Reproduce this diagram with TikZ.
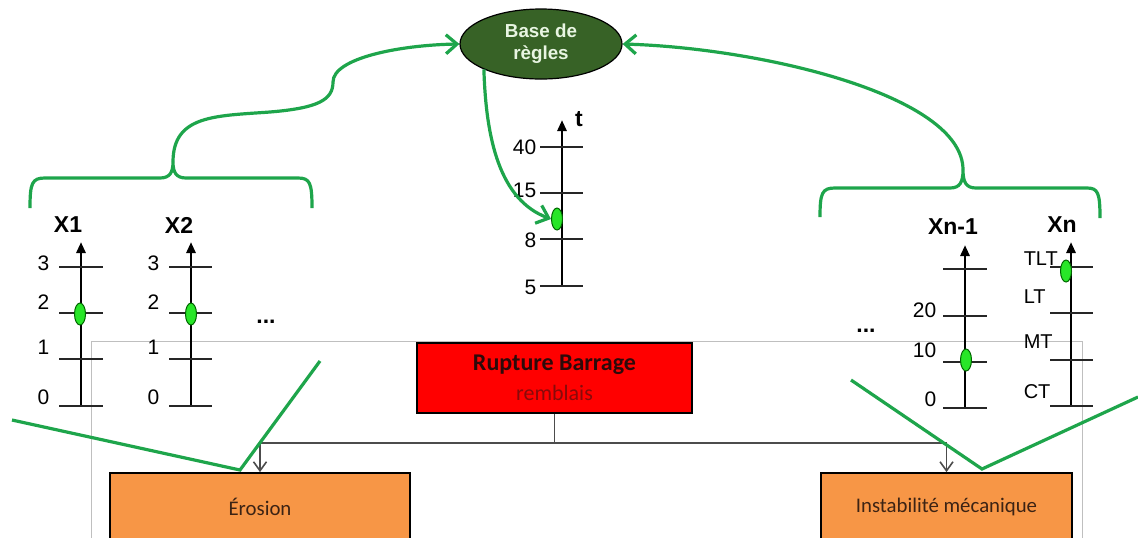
\documentclass[tikz,border=0pt]{standalone}
\usepackage{fontspec}
\setmainfont{Liberation Sans}
\newfontfamily\calibri{Carlito}
\usetikzlibrary{arrows.meta,shapes.geometric}
\definecolor{vertligne}{RGB}{30,165,75}
\definecolor{vertbase}{RGB}{55,98,38}
\definecolor{vertpoint}{RGB}{40,230,40}
\definecolor{orangebox}{RGB}{247,150,70}
\definecolor{texterouge}{RGB}{135,10,10}
\definecolor{textebrun}{RGB}{60,35,20}
\tikzset{every picture/.style={line width=0.75pt},
  axe/.style={line width=1.4pt,-{Triangle[width=4.5pt,length=5.5pt]}},
  graduation/.style={line width=0.8pt,color=black!85},
  vert/.style={draw=vertligne,line width=1.6pt},
  fleche/.style={vert,-{Straight Barb[length=5.5pt,width=9.5pt]}},
  lien/.style={draw=black!70,line width=0.8pt},
  cadre/.style={draw=black!25,line width=0.5pt},
  point/.style={ellipse,draw=black!60!green,fill=vertpoint,line width=0.5pt,minimum width=5.5pt,minimum height=11pt,inner sep=0pt},
  chiffre/.style={anchor=east,inner sep=0pt,font=\fontsize{10.5}{12}\selectfont},
  niveau/.style={anchor=west,inner sep=0pt,font=\fontsize{10}{12}\selectfont},
  titre/.style={inner sep=0pt,font=\fontsize{11.5}{13}\selectfont\bfseries},
  boite/.style={draw=black,line width=0.9pt,fill=orangebox,inner sep=0pt,minimum height=34pt,font=\calibri\fontsize{10.4}{12}\selectfont,text=textebrun}}

\begin{document}
\begin{tikzpicture}[x=0.5pt,y=0.5pt,yscale=-1,xscale=1]
\clip (0,0) rectangle (1138,537);

%Shape: Frame
\draw[cadre] (91,545) -- (91,341) -- (1082,341) -- (1082,545);

%Shape: Ellipse
\node[ellipse,draw=black,line width=0.6pt,fill=vertbase,minimum width=81pt,minimum height=35pt,inner sep=0pt,align=center,text={rgb,255:red,232;green,245;blue,226},font=\fontsize{9.4}{11}\selectfont\bfseries] (base) at (541,44) {Base de\\règles};

%Axis X1
\draw[axe] (81,406) -- (81,242);
\draw[graduation] (59,267) -- (103,267);
\draw[graduation] (59,313) -- (103,313);
\draw[graduation] (59,359) -- (103,359);
\draw[graduation] (59,406) -- (103,406);
%Axis X2
\draw[axe] (191,406) -- (191,242);
\draw[graduation] (169,267) -- (212,267);
\draw[graduation] (169,313) -- (212,313);
\draw[graduation] (169,359) -- (212,359);
\draw[graduation] (169,406) -- (212,406);
%Axis t
\draw[axe] (562,286) -- (562,120);
\draw[graduation] (540,147) -- (583,147);
\draw[graduation] (540,193) -- (583,193);
\draw[graduation] (540,239) -- (583,239);
\draw[graduation] (540,286) -- (583,286);
%Axis Xn-1
\draw[axe] (965,408) -- (965,245);
\draw[graduation] (943,269) -- (987,269);
\draw[graduation] (943,316) -- (987,316);
\draw[graduation] (943,362) -- (987,362);
\draw[graduation] (943,408) -- (987,408);
%Axis Xn
\draw[axe] (1071,406) -- (1071,242);
\draw[graduation] (1050,267) -- (1093,267);
\draw[graduation] (1050,313) -- (1093,313);
\draw[graduation] (1050,360) -- (1093,360);
\draw[graduation] (1050,406) -- (1093,406);

% Text Node
\node[titre] (tx1) at (68,225) {X1};
\node[titre] (tx2) at (179,225) {X2};
\node[titre] (tt) at (579,119) {t};
\node[titre] (txn1) at (953,227) {Xn-1};
\node[titre] (txn) at (1062,225) {Xn};
% Text Node
\node[chiffre] (a3) at (50,263) {3};
\node[chiffre] (a2) at (50,302) {2};
\node[chiffre] (a1) at (50,347) {1};
\node[chiffre] (a0) at (50,397) {0};
\node[chiffre] (b3) at (160,263) {3};
\node[chiffre] (b2) at (160,302) {2};
\node[chiffre] (b1) at (160,347) {1};
\node[chiffre] (b0) at (160,397) {0};
\node[chiffre] (t40) at (537,147) {40};
\node[chiffre] (t15) at (537,190) {15};
\node[chiffre] (t8) at (537,240) {8};
\node[chiffre] (t5) at (537,287) {5};
\node[chiffre] (c20) at (937,310) {20};
\node[chiffre] (c10) at (937,350) {10};
\node[chiffre] (c0) at (937,399) {0};
\node[niveau] (ntlt) at (1023,259) {TLT};
\node[niveau] (nlt) at (1023,297) {LT};
\node[niveau] (nmt) at (1023,342) {MT};
\node[niveau] (nct) at (1023,392) {CT};
\node[titre] (etc1) at (266,322) {...};
\node[titre] (etc2) at (866,331) {...};

%Shape: Points
\node[point] (d1) at (80,314) {};
\node[point] (d2) at (191,314) {};
\node[point] (dt) at (557,219) {};
\node[point] (dn1) at (966,360) {};
\node[point] (dn) at (1066,271) {};

%Shape: Boxes
\node[draw=black,line width=0.9pt,fill=red,minimum width=137.5pt,minimum height=35pt,inner sep=0pt,align=center,font=\calibri\fontsize{11}{15}\selectfont,text={rgb,255:red,45;green,10;blue,10}] (rupture) at (554.5,378) {{\fontsize{12}{15}\selectfont\bfseries Rupture Barrage}\\\textcolor{texterouge}{remblais}};
\node[boite,minimum width=150pt] (erosion) at (260,507) {Érosion};
\node[boite,minimum width=125.5pt] (instab) at (946.5,507) {Instabilité mécanique};

%Connectors
\coordinate (split) at (554.5,443);
\draw[lien] (rupture.south) -- (split);
\draw[lien,-{Straight Barb[length=4.5pt,width=6.5pt]}] (split) -| (erosion.north);
\draw[lien,-{Straight Barb[length=4.5pt,width=6.5pt]}] (split) -| (instab.north);

%Braces
\coordinate (lpk) at (173,162);
\coordinate (rpk) at (963,170);
\draw[vert] (30,208) .. controls (30,183) and (32,178) .. (45,178) -- (160,178) .. controls (170,178) and (173,172) .. (lpk) .. controls (173,172) and (176,178) .. (186,178) -- (298,178) .. controls (310,178) and (312,183) .. (312,208);
\draw[vert] (820,217) .. controls (820,193) and (822,188) .. (835,188) -- (950,188) .. controls (960,188) and (963,182) .. (rpk) .. controls (963,182) and (966,188) .. (976,188) -- (1087,188) .. controls (1098,188) and (1100,193) .. (1100,218);

%Curve Lines
\draw[fleche] (lpk) .. controls (173,115) and (215,116) .. (270,112) .. controls (318,108) and (333,100) .. (333,82) .. controls (333,58) and (400,45) .. (base.west);
\draw[fleche] (rpk) .. controls (963,95) and (760,48) .. (base.east);
\draw[fleche] (base.204) .. controls (486,140) and (500,200) .. (dt.west);

%Straight Lines
\draw[vert] (12,420) -- (240,470) -- (320,361);
\draw[vert] (851,380) -- (982,469) -- (1138,397);

\end{tikzpicture}
\end{document}
